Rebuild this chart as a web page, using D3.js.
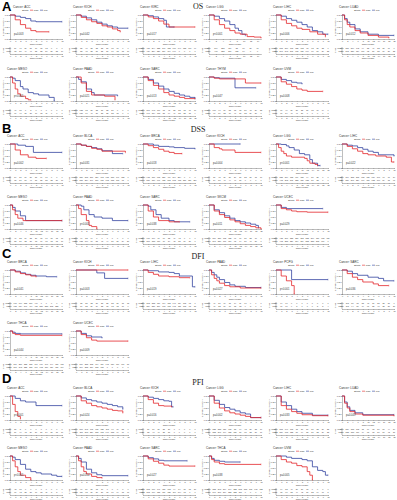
<!DOCTYPE html>
<html>
<head>
<meta charset="utf-8">
<script src="https://cdn.jsdelivr.net/npm/d3@7"></script>
<style>
body{margin:0;background:#fff}
svg{display:block}
text{font-family:"Liberation Sans",Arial,sans-serif;fill:#333}
.sec{font-weight:bold;font-size:13px;fill:#000}
.hdr{font-family:"Liberation Serif","Times New Roman",serif;font-size:8px;fill:#222}
</style>
</head>
<body>
<svg id="fig" width="397" height="500"></svg>
<script>
"use strict";

// ---- A: overall survival ----
var osNames = ["ACC","KICH","KIRC","LGG","LIHC","LUAD","MESO","PAAD","SARC","THYM","UVM"];
var osP = ["p=0.003","p=0.042","p=0.017","p<0.001","p=0.006","p=0.012","p<0.001","p=0.021","p=0.013","p=0.047","p=0.008"];
var osMax = [10,10,10,15,10,20,10,10,20,10,10];
var osN = [79,65,530,510,370,500,86,178,260,119,80];
var osHigh = [
  [[0,1],[1,0.8],[2,0.6],[3,0.45],[4,0.35],[5,0.3],[7.5,0.3]],
  [[0,1],[1,0.9],[2,0.8],[3,0.72],[4,0.65],[5,0.55],[6,0.5],[7,0.42],[8,0.35],[8.5,0.3]],
  [[0,1],[1,0.92],[2,0.85],[3,0.75],[4,0.62],[5,0.5],[10,0.5]],
  [[0,1],[1.5,0.8],[3,0.6],[4.5,0.45],[6,0.35],[7.5,0.25],[9,0.2],[11,0.1],[13,0.08],[15,0.05]],
  [[0,1],[1,0.8],[2,0.65],[3,0.55],[4,0.45],[5,0.4],[6.5,0.3],[8,0.2],[9.5,0.1]],
  [[0,1],[1,0.8],[2,0.6],[3,0.5],[5,0.35],[7,0.25],[10,0.15],[14,0.08],[18,0.05]],
  [[0,1],[0.5,0.75],[1,0.5],[1.5,0.3],[2,0.2],[3,0.1],[3.5,0.05],[4,0.05]],
  [[0,1],[1,0.75],[2,0.4],[3,0.25],[5.5,0.2],[7.5,0.05]],
  [[0,1],[2,0.85],[4,0.65],[6,0.5],[8,0.35],[10,0.25],[12,0.2],[14,0.15],[16,0.1],[20,0.1]],
  [[0,1],[1,0.95],[2,0.92],[7,0.75],[10,0.75]],
  [[0,1],[1,0.8],[2,0.7],[3,0.6],[4,0.5],[5,0.45],[6,0.4],[9,0.4]]
];
var osLow = [
  [[0,1],[1,0.95],[2,0.9],[3,0.85],[4,0.75],[5,0.72],[10,0.72]],
  [[0,1],[1,0.95],[2,0.88],[3,0.8],[4,0.7],[5,0.62],[6,0.55],[7,0.5],[8,0.45],[10,0.45]],
  [[0,1],[1,0.97],[2,0.92],[3,0.85],[4,0.78],[4.5,0.5],[6,0.5]],
  [[0,1],[1.5,0.95],[3,0.85],[4.5,0.75],[6,0.6],[7.5,0.45],[8.5,0.35],[9.5,0.2],[10.5,0.15]],
  [[0,1],[1,0.95],[2,0.85],[3,0.78],[4,0.7],[5,0.6],[6,0.5],[7,0.35],[8,0.3],[9,0.2],[10,0.2]],
  [[0,1],[1,0.85],[2,0.7],[3,0.6],[5,0.42],[7,0.3],[10,0.2],[14,0.15],[20,0.15]],
  [[0,1],[0.5,0.95],[1,0.85],[2,0.6],[2.5,0.5],[3.5,0.35],[4.5,0.3],[5.5,0.25],[7.5,0.15],[8.5,0]],
  [[0,1],[0.5,0.9],[1,0.8],[2,0.5],[3,0.35],[3.5,0.25],[8,0.22]],
  [[0,1],[2,0.9],[4,0.75],[6,0.62],[8,0.5],[10,0.4],[12,0.32],[14,0.25],[16,0.2],[18,0.15],[20,0.1]],
  [[0,1],[1,0.97],[2,0.95],[5,0.55],[9,0.55]],
  [[0,1],[1,0.9],[2,0.85],[3,0.78],[4,0.75],[5,0.72]]
];

// ---- B: disease-specific survival ----
var dssNames = ["ACC","BLCA","BRCA","KICH","LGG","LIHC","MESO","PAAD","SARC","SKCM","UCEC"];
var dssP = ["p=0.002","p=0.031","p=0.018","p=0.004","p<0.001","p=0.022","p=0.046","p<0.001","p=0.038","p=0.011","p=0.029"];
var dssMax = [10,10,10,10,20,10,20,10,10,20,10];
var dssN = [77,400,1050,64,500,360,84,172,250,440,530];
var dssHigh = [
  [[0,1],[1,0.75],[2,0.55],[3.5,0.45],[5,0.4],[7,0.4]],
  [[0,1],[1,0.95],[2,0.9],[3,0.82],[4,0.78],[5,0.7],[9.5,0.65]],
  [[0,1],[1,0.93],[2,0.85],[3,0.78],[4,0.7],[5,0.65],[6,0.6],[7.5,0.6]],
  [[0,1],[1,0.85],[2,0.8],[2.5,0.75],[5,0.65],[10,0.65]],
  [[0,1],[1,0.85],[2,0.7],[3,0.6],[4,0.5],[6,0.45],[11,0.4],[12,0.3],[13,0.2],[15,0.15],[16,0.1]],
  [[0,1],[1,0.9],[2,0.8],[3,0.7],[4,0.6],[5,0.55],[6.5,0.5],[8.5,0.45],[9.5,0.25],[10,0.25]],
  [[0,1],[1,0.8],[2,0.6],[3,0.45],[5,0.35],[20,0.35]],
  [[0,1],[0.5,0.85],[1,0.6],[2,0.35],[2.5,0.15],[3,0.1],[4,0]],
  [[0,1],[1,0.75],[2,0.5],[3,0.35],[5,0.3],[7,0.3]],
  [[0,1],[2,0.75],[4,0.6],[6,0.48],[8,0.38],[10,0.3],[12,0.22],[14,0.15],[16,0.1],[18,0.05],[20,0]],
  [[0,1],[1,0.85],[2,0.8],[3,0.75],[4,0.72],[6,0.7],[10,0.7]]
];
var dssLow = [
  [[0,1],[1.5,0.95],[3,0.9],[4.5,0.65],[10,0.65]],
  [[0,1],[1,0.95],[2,0.9],[3,0.85],[4,0.8],[5,0.72],[7,0.6],[9,0.6]],
  [[0,1],[2,0.95],[3,0.9],[5,0.88],[6,0.85],[8,0.82],[10,0.8]],
  [[0,1],[6,1]],
  [[0,1],[2,0.98],[4,0.92],[5,0.85],[7,0.75],[9,0.6],[11,0.55],[13,0.35],[14,0.2],[16,0.1],[17,0.1]],
  [[0,1],[1,0.95],[2,0.92],[3,0.85],[4,0.78],[5,0.7],[6,0.65],[7,0.55],[10,0.5]],
  [[0,1],[1,0.9],[2,0.75],[4,0.55],[6,0.35],[20,0.35]],
  [[0,1],[1,0.95],[1.5,0.8],[2.5,0.6],[3.5,0.5],[5,0.45],[7,0.35],[10,0.35]],
  [[0,1],[1,0.95],[1.5,0.8],[2.5,0.6],[3.5,0.45],[5,0.35],[6,0.3],[9,0.3]],
  [[0,1],[2,0.8],[4,0.68],[6,0.55],[8,0.45],[10,0.35],[12,0.3],[14,0.25],[16,0.2],[18,0.15],[19,0.05]],
  [[0,1],[1,0.9],[2,0.85],[9,0.85]]
];

// ---- C: disease-free interval ----
var dfiNames = ["BRCA","KICH","LIHC","PAAD","PCPG","SARC","THCA","UCEC"];
var dfiP = ["p=0.041","p=0.003","p=0.019","p=0.027","p<0.001","p=0.036","p=0.044","p=0.009"];
var dfiMax = [20,10,10,10,10,10,20,10];
var dfiN = [900,40,310,68,20,140,350,400];
var dfiHigh = [
  [[0,1],[2,0.92],[4,0.85],[6,0.8],[8,0.75],[10,0.72]],
  [[0,1],[10,1]],
  [[0,1],[1,0.9],[2,0.82],[3,0.75],[5,0.72],[7,0.68],[9,0.68]],
  [[0,1],[0.5,0.8],[1,0.65],[1.5,0.55],[2,0.45],[3,0.35],[4,0.3],[6,0.25],[10,0.25]],
  [[0,1],[1,0.75],[2,0.55],[3,0.35],[3.5,0]],
  [[0,1],[1,0.85],[2,0.7],[3,0.6],[4,0.5],[6,0.42],[7,0.35],[9,0.35]],
  [[0,1],[1,0.9],[2,0.85],[4,0.82],[20,0.82]],
  [[0,1],[1,0.85],[2,0.72],[3,0.62],[4,0.58],[10,0.58]]
];
var dfiLow = [
  [[0,1],[2,0.95],[4,0.88],[6,0.82],[8,0.78],[10,0.75],[14,0.72],[18,0.72]],
  [[0,1],[4,0.88],[5.5,0.65],[10,0.65]],
  [[0,1],[1,0.97],[3,0.92],[5,0.9],[6,0.85],[7,0.75],[9.5,0.3],[10,0.3]],
  [[0,1],[0.5,0.9],[1,0.8],[1.5,0.7],[2,0.6],[3,0.48],[4,0.38],[5,0.32],[7,0.27],[10,0.27]],
  [[0,1],[3,0.6],[10,0.6]],
  [[0,1],[1,0.95],[2,0.85],[3,0.78],[5,0.7],[7,0.65],[8,0.55],[10,0.55]],
  [[0,1],[1,0.95],[2,0.9],[4,0.88],[20,0.88]],
  [[0,1],[1,0.9],[2,0.8],[3,0.75],[5,0.72]]
];

// ---- D: progression-free interval ----
var pfiNames = ["ACC","BLCA","KICH","LGG","LIHC","LUAD","MESO","PAAD","SARC","THCA","UVM"];
var pfiP = ["p<0.001","p=0.024","p=0.016","p=0.002","p=0.033","p=0.049","p<0.001","p=0.014","p=0.027","p=0.038","p=0.005"];
var pfiMax = [10,10,10,10,10,20,10,10,10,10,10];
var pfiN = [78,400,64,510,370,500,84,176,258,500,80];
var pfiHigh = [
  [[0,1],[0.5,0.65],[1,0.35],[1.5,0.15],[2,0.05]],
  [[0,1],[1,0.8],[2,0.7],[3,0.6],[4,0.55],[5,0.5],[6,0.45],[7,0.4],[8,0.38],[9,0.3]],
  [[0,1],[1,0.85],[2,0.7],[3,0.6],[4,0.58],[5.5,0.55]],
  [[0,1],[1,0.7],[2,0.5],[3,0.38],[4,0.3],[5,0.25],[6,0.2],[7,0.15],[8,0.1],[10,0.1]],
  [[0,1],[1,0.6],[2,0.45],[3,0.35],[4,0.28],[5,0.22],[7,0.18],[10,0.18]],
  [[0,1],[1,0.7],[2,0.5],[3,0.35],[5,0.25],[8,0.2],[20,0.18]],
  [[0,1],[0.5,0.8],[1,0.55],[1.5,0.35],[2,0.2],[3,0.1],[4,0]],
  [[0,1],[0.5,0.8],[1,0.55],[1.5,0.35],[2,0.25],[3,0.15],[4,0.1],[5,0.08]],
  [[0,1],[1,0.88],[2,0.78],[3,0.7],[4,0.62],[5,0.58],[10,0.58]],
  [[0,1],[0.5,0.85],[1,0.75],[2,0.68],[3,0.65],[10,0.65]],
  [[0,1],[1,0.85],[2,0.75],[3,0.7],[4,0.6],[5,0.55],[6,0.35],[6.5,0.2],[7,0]]
];
var pfiLow = [
  [[0,1],[1,0.9],[2,0.8],[3,0.75],[5,0.6],[10,0.6]],
  [[0,1],[1,0.92],[2,0.85],[3,0.8],[4,0.75],[5,0.7],[6,0.65],[7,0.6],[8,0.55],[9,0.45]],
  [[0,1],[1,0.95],[2,0.9],[3,0.85],[4,0.8],[5,0.78],[5.5,0.55],[5.8,0.55]],
  [[0,1],[1,0.82],[2,0.65],[3,0.52],[4,0.45],[5,0.38],[6,0.3],[7,0.25],[8,0.1],[10,0.1]],
  [[0,1],[1,0.75],[2,0.6],[3,0.45],[4,0.35],[5,0.28],[7,0.2],[10,0.2]],
  [[0,1],[1,0.75],[2,0.55],[3,0.4],[5,0.3],[8,0.22],[20,0.22]],
  [[0,1],[0.5,0.95],[1,0.85],[2,0.65],[3,0.45],[4,0.35],[5,0.3],[6,0.25],[8,0.2],[9,0.15],[10,0.15]],
  [[0,1],[0.5,0.9],[1,0.75],[2,0.45],[3,0.3],[4,0.22],[5,0.18],[10,0.18]],
  [[0,1],[1,0.93],[2,0.88],[3,0.82],[4,0.8],[8.5,0.8]],
  [[0,1],[0.5,0.9],[1,0.82],[2,0.78],[3,0.75],[6,0.75]],
  [[0,1],[2,0.95],[3,0.9],[5,0.85],[6,0.8],[7,0.55],[8,0.4],[9,0.35],[9.5,0.2],[10,0.2]]
];

var RED = "#e3262b", BLUE = "#33449f";
var colX = [2, 68, 135, 201, 268, 334];

var sections = [
  {letter: "A", label: "OS",  letterY: 11,  labelY: 9,   rows: [6, 68],    names: osNames,  p: osP,  tMax: osMax,  n: osN,  high: osHigh,  low: osLow},
  {letter: "B", label: "DSS", letterY: 133, labelY: 132, rows: [135, 196], names: dssNames, p: dssP, tMax: dssMax, n: dssN, high: dssHigh, low: dssLow},
  {letter: "C", label: "DFI", letterY: 258, labelY: 259, rows: [261, 322], names: dfiNames, p: dfiP, tMax: dfiMax, n: dfiN, high: dfiHigh, low: dfiLow},
  {letter: "D", label: "PFI", letterY: 383, labelY: 385, rows: [387, 447], names: pfiNames, p: pfiP, tMax: pfiMax, n: pfiN, high: pfiHigh, low: pfiLow}
];

var svg = d3.select("#fig");

function survAt(curve, t) {
  if (t > curve[curve.length - 1][0]) return null;
  var s = 1;
  curve.forEach(function(d){ if (d[0] <= t) s = d[1]; });
  return s;
}

function styleAxis(g, fs) {
  g.attr("font-size", null).attr("font-family", null);
  g.select(".domain").attr("stroke", "#444").attr("stroke-width", 0.35);
  g.selectAll(".tick line").attr("stroke", "#444").attr("stroke-width", 0.3);
  g.selectAll(".tick text").attr("fill", "#444").style("font-size", fs + "px");
}

function drawPanel(g, name, pv, tMax, n, high, low, titleX) {
  var x = d3.scaleLinear().domain([0, tMax]).range([8, 60]);
  var y = d3.scaleLinear().domain([0, 1]).range([33, 9]);
  var step = tMax > 12 ? 2 : 1;
  var ticks = d3.range(0, tMax + 0.001, step);

  g.append("text").attr("x", titleX).attr("y", 1.5)
    .style("font-size", "3px").attr("fill", "#444").text("Cancer: " + name);

  // legend line
  var lg = g.append("g").attr("transform", "translate(20,5)");
  lg.append("text").attr("x", 0).attr("y", 0).style("font-size", "2.4px").attr("fill", "#555").text("Strata");
  lg.append("line").attr("x1", 8).attr("x2", 11).attr("y1", -0.8).attr("y2", -0.8).attr("stroke", RED).attr("stroke-width", 0.6);
  lg.append("text").attr("x", 11.8).attr("y", 0).style("font-size", "2.4px").attr("fill", "#555").text("high");
  lg.append("line").attr("x1", 18).attr("x2", 21).attr("y1", -0.8).attr("y2", -0.8).attr("stroke", BLUE).attr("stroke-width", 0.6);
  lg.append("text").attr("x", 21.8).attr("y", 0).style("font-size", "2.4px").attr("fill", "#555").text("low");

  // axes
  var ya = g.append("g").attr("transform", "translate(8,0)")
    .call(d3.axisLeft(y).tickValues([0, 0.25, 0.5, 0.75, 1]).tickSize(0.8).tickPadding(0.5).tickFormat(d3.format(".2f")));
  styleAxis(ya, 2);
  var xa = g.append("g").attr("transform", "translate(0,33)")
    .call(d3.axisBottom(x).tickValues(ticks).tickSize(0.8).tickPadding(0.4).tickFormat(d3.format("d")));
  styleAxis(xa, 2);

  g.append("text").attr("transform", "translate(2,21) rotate(-90)").attr("text-anchor", "middle")
    .style("font-size", "2.2px").attr("fill", "#444").text("Survival probability");
  g.append("text").attr("x", 34).attr("y", 38.5).attr("text-anchor", "middle")
    .style("font-size", "2.4px").attr("fill", "#444").text("Time(years)");

  var line = d3.line().curve(d3.curveStepAfter)
    .x(function(d){ return x(d[0]); }).y(function(d){ return y(d[1]); });

  [[low, BLUE], [high, RED]].forEach(function(c) {
    g.append("path").attr("d", line(c[0])).attr("fill", "none")
      .attr("stroke", c[1]).attr("stroke-width", 0.8).attr("stroke-linejoin", "miter");
    var last = c[0][c[0].length - 1];
    g.append("line").attr("x1", x(last[0])).attr("x2", x(last[0]))
      .attr("y1", y(last[1]) - 0.9).attr("y2", y(last[1]) + 0.9)
      .attr("stroke", c[1]).attr("stroke-width", 0.35);
  });

  g.append("text").attr("x", 12).attr("y", 28.5).style("font-size", "2.6px").attr("fill", "#222").text(pv);

  // risk table
  var rTop = 41, rBot = 48;
  g.append("line").attr("x1", 8).attr("x2", 8).attr("y1", rTop).attr("y2", rBot).attr("stroke", "#444").attr("stroke-width", 0.35);
  g.append("text").attr("transform", "translate(1.5," + ((rTop + rBot) / 2) + ") rotate(-90)").attr("text-anchor", "middle")
    .style("font-size", "2px").attr("fill", "#444").text("Strata");
  [[high, RED, "high", 43.3, n], [low, BLUE, "low", 46.3, Math.round(n * 0.9)]].forEach(function(r) {
    g.append("text").attr("x", 7.4).attr("y", r[3]).attr("text-anchor", "end")
      .style("font-size", "2px").attr("fill", r[1]).text(r[2]);
    g.selectAll(null).data(ticks).enter().append("text")
      .attr("x", function(t){ return x(t); }).attr("y", r[3]).attr("text-anchor", "middle")
      .style("font-size", "1.9px").attr("fill", r[1])
      .text(function(t){ var s = survAt(r[0], t); return s === null ? "0" : Math.round(s * r[4] * (1 - t / (tMax * 1.6))); });
  });
  var ra = g.append("g").attr("transform", "translate(0," + rBot + ")")
    .call(d3.axisBottom(x).tickValues(ticks).tickSize(0.8).tickPadding(0.4).tickFormat(d3.format("d")));
  styleAxis(ra, 2);
  g.append("text").attr("x", 34).attr("y", 53).attr("text-anchor", "middle")
    .style("font-size", "2.4px").attr("fill", "#444").text("Time(years)");
}

sections.forEach(function(sec, si) {
  svg.append("text").attr("class", "sec").attr("x", 2).attr("y", sec.letterY).text(sec.letter);
  svg.append("text").attr("class", "hdr").attr("x", 198).attr("y", sec.labelY)
    .attr("text-anchor", "middle").text(sec.label);
  sec.names.forEach(function(nm, i) {
    var row = Math.floor(i / 6), col = i % 6;
    // first panel of A sits beside the section letter
    var titleX = (si === 0 && i === 0) ? 11 : 5;
    var g = svg.append("g").attr("transform", "translate(" + colX[col] + "," + sec.rows[row] + ")");
    drawPanel(g, nm, sec.p[i], sec.tMax[i], sec.n[i], sec.high[i], sec.low[i], titleX);
  });
});
</script>
</body>
</html>
